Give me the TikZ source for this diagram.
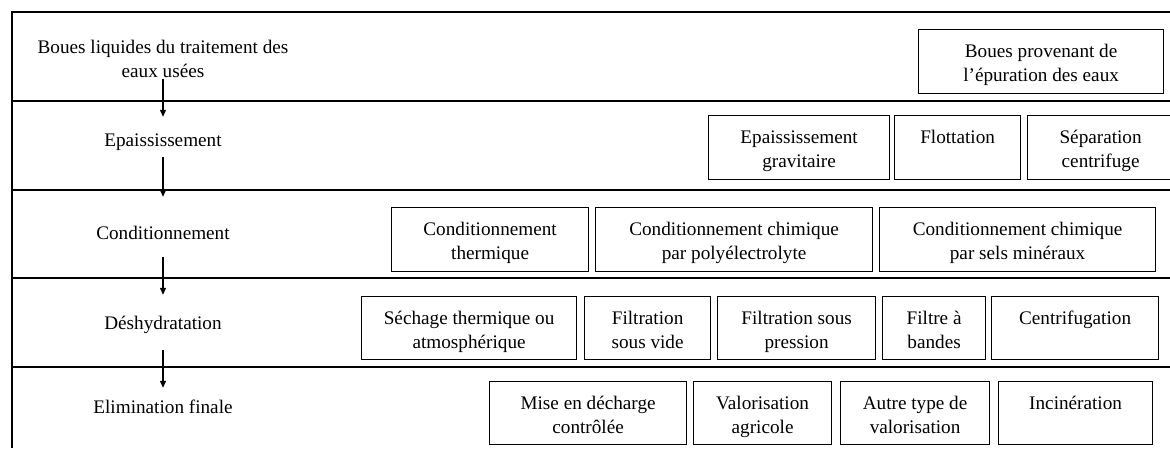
\documentclass[tikz,border=0pt]{standalone}
\usepackage{fontspec}
\setmainfont{Liberation Serif}
\usetikzlibrary{arrows.meta}

\tikzset{
  frameline/.style={line width=1.3pt},
  procbox/.style={draw, line width=1.2pt, inner sep=0pt, anchor=north west},
  stagelabel/.style={inner sep=0pt, anchor=base, text height=14pt, text depth=4pt},
  stagetop/.style={inner sep=0pt, anchor=base},
  flow/.style={line width=1.2pt, -{Triangle[length=7pt,width=6pt]}},
}

% process box: name, left, top, right, bottom, text (top-aligned, centred)
\newcommand{\procnode}[6]{%
  \node[procbox] (#1) at (#2,#3)
    {\parbox[c][\dimexpr #5pt-#3pt\relax][t]{\dimexpr #4pt-#2pt\relax}%
      {\centering\rule{0pt}{27.5pt}#6\par}};}

\begin{document}
\begin{tikzpicture}[x=1pt, y=-1pt, font=\fontsize{19.2}{24}\selectfont]
\useasboundingbox (0,0) rectangle (1170,448);

% table frame and row separators
\draw[frameline] (12,448) -- (12,12) -- (1170,12);
\draw[frameline] (12,101) -- (1170,101);
\draw[frameline] (12,190) -- (1170,190);
\draw[frameline] (12,278) -- (1170,278);
\draw[frameline] (12,367) -- (1170,367);

% treatment stages
\node[stagetop] (boues) at (163,53)
  {\parbox[t]{300pt}{\centering Boues liquides du traitement des\\eaux usées}};
\node[stagelabel] (epais) at (163,146.5) {Epaississement};
\node[stagelabel] (cond)  at (163,239.5) {Conditionnement};
\node[stagelabel] (desh)  at (163,329.5) {Déshydratation};
\node[stagelabel] (elim)  at (163,413.5) {Elimination finale};

\draw[flow, shorten <=1.5pt,  shorten >=15.5pt] (boues) -- (epais);
\draw[flow, shorten <=6.5pt,  shorten >=28.5pt] (epais) -- (cond);
\draw[flow, shorten <=13.5pt, shorten >=20.5pt] (cond) -- (desh);
\draw[flow, shorten <=16.5pt, shorten >=11.5pt] (desh) -- (elim);

% row 1: origin
\procnode{orig}{918}{29}{1163}{93}{Boues provenant de\\l’épuration des eaux}

% row 2: thickening
\procnode{grav}{708}{115}{889}{179}{Epaississement\\gravitaire}
\procnode{flot}{894}{115}{1020}{179}{Flottation}
\procnode{sep}{1027}{115}{1173}{179}{Séparation\\centrifuge}

% row 3: conditioning
\procnode{cth}{391}{207}{588}{271}{Conditionnement\\thermique}
\procnode{cpoly}{595}{207}{872}{271}{Conditionnement chimique\\par polyélectrolyte}
\procnode{csels}{879}{207}{1155}{271}{Conditionnement chimique\\par sels minéraux}

% row 4: dewatering
\procnode{sech}{361}{296}{576}{359}{Séchage thermique ou\\atmosphérique}
\procnode{fvide}{584}{296}{710}{359}{Filtration\\sous vide}
\procnode{fpres}{717}{296}{875}{359}{Filtration sous\\pression}
\procnode{fband}{882}{296}{985}{359}{Filtre à\\bandes}
\procnode{centri}{991}{296}{1158}{359}{Centrifugation}

% row 5: final disposal
\procnode{mise}{489}{381}{686}{444}{Mise en décharge\\contrôlée}
\procnode{valag}{693}{381}{831}{444}{Valorisation\\agricole}
\procnode{autre}{840}{381}{989}{444}{Autre type de\\valorisation}
\procnode{incin}{998}{381}{1152}{444}{Incinération}
\end{tikzpicture}
\end{document}
